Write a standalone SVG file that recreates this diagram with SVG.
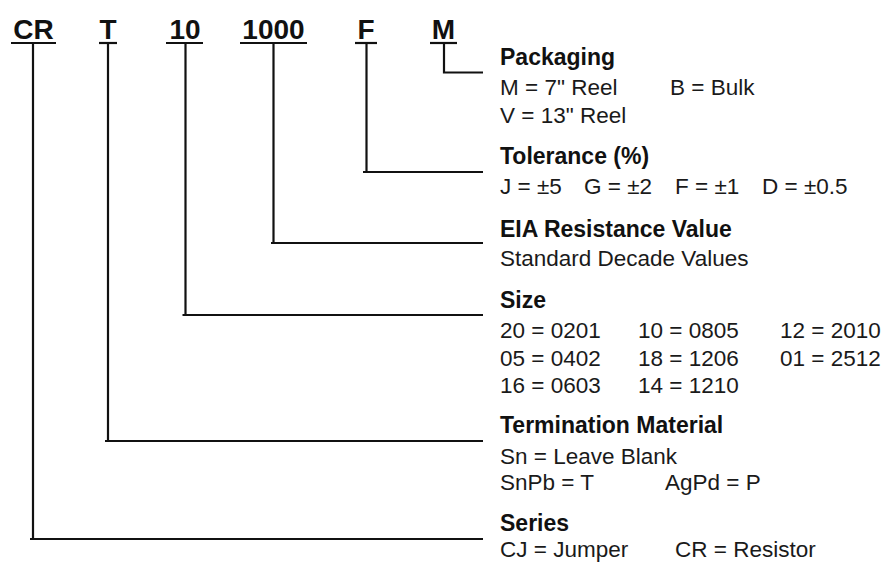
<svg xmlns="http://www.w3.org/2000/svg" width="884" height="563" viewBox="0 0 884 563">
<style>
.code{font-family:"Liberation Sans",Arial,sans-serif;font-weight:bold;font-size:28px;fill:#111;text-anchor:middle}
.ul{stroke:#111;stroke-width:2.2}
.h{font-family:"Liberation Sans",Arial,sans-serif;font-weight:bold;font-size:23px;fill:#111}
.t{font-family:"Liberation Sans",Arial,sans-serif;font-size:22.5px;fill:#1a1a1a}
.con{stroke:#111;stroke-width:2.2;fill:none}
</style>
<rect width="884" height="563" fill="#fff"/>
<g id="code-CR"><text class="code" x="33.5" y="39">CR</text><line class="ul" x1="11" y1="43" x2="56" y2="43"/></g>
<g id="code-T"><text class="code" x="108" y="39">T</text><line class="ul" x1="99" y1="43" x2="117" y2="43"/></g>
<g id="code-10"><text class="code" x="185" y="39">10</text><line class="ul" x1="166" y1="43" x2="203" y2="43"/></g>
<g id="code-1000"><text class="code" x="273.5" y="39">1000</text><line class="ul" x1="240" y1="43" x2="307" y2="43"/></g>
<g id="code-F"><text class="code" x="366" y="39">F</text><line class="ul" x1="355" y1="43" x2="377" y2="43"/></g>
<g id="code-M"><text class="code" x="443.5" y="39">M</text><line class="ul" x1="430" y1="43" x2="457" y2="43"/></g>
<g id="connectors">
<path class="con" d="M444 43 V72.5 H483"/>
<path class="con" d="M366.5 43 V172 M363 172 H483"/>
<path class="con" d="M273.5 43 V243 M271 243 H483"/>
<path class="con" d="M185.5 43 V315 M182.5 315 H483"/>
<path class="con" d="M108 43 V441 M105 441 H483"/>
<path class="con" d="M33 43 V539 M30 539 H483"/>
</g>
<g id="packaging">
<text class="h" x="500" y="65">Packaging</text>
<text class="t" x="500" y="95">M = 7" Reel</text>
<text class="t" x="670" y="95">B = Bulk</text>
<text class="t" x="500" y="123">V = 13" Reel</text>
</g>
<g id="tolerance">
<text class="h" x="500" y="164">Tolerance (%)</text>
<text class="t" x="500" y="194">J = ±5</text>
<text class="t" x="584" y="194">G = ±2</text>
<text class="t" x="675" y="194">F = ±1</text>
<text class="t" x="762" y="194">D = ±0.5</text>
</g>
<g id="resistance">
<text class="h" x="500" y="237">EIA Resistance Value</text>
<text class="t" x="500" y="266">Standard Decade Values</text>
</g>
<g id="size">
<text class="h" x="500" y="308">Size</text>
<text class="t" x="500" y="338">20 = 0201</text>
<text class="t" x="638" y="338">10 = 0805</text>
<text class="t" x="780" y="338">12 = 2010</text>
<text class="t" x="500" y="366">05 = 0402</text>
<text class="t" x="638" y="366">18 = 1206</text>
<text class="t" x="780" y="366">01 = 2512</text>
<text class="t" x="500" y="393">16 = 0603</text>
<text class="t" x="638" y="393">14 = 1210</text>
</g>
<g id="termination">
<text class="h" x="500" y="433">Termination Material</text>
<text class="t" x="500" y="464">Sn = Leave Blank</text>
<text class="t" x="500" y="490">SnPb = T</text>
<text class="t" x="665" y="490">AgPd = P</text>
</g>
<g id="series">
<text class="h" x="500" y="531">Series</text>
<text class="t" x="500" y="557">CJ = Jumper</text>
<text class="t" x="675" y="557">CR = Resistor</text>
</g>
</svg>
